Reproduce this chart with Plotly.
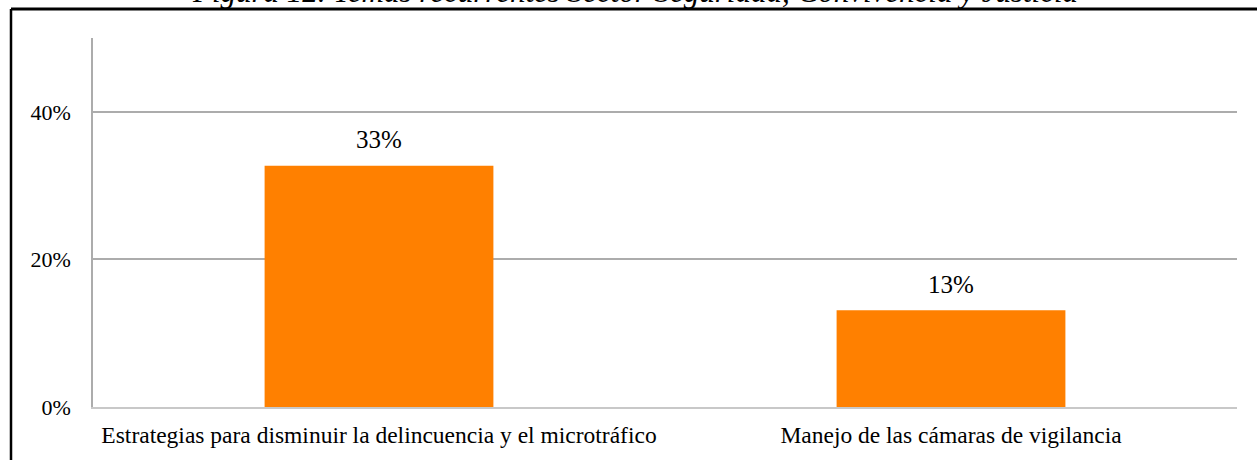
import plotly.graph_objects as go

# datos
temas = ["Estrategias para disminuir la delincuencia y el microtráfico",
         "Manejo de las cámaras de vigilancia"]
porcentajes = [0.327, 0.131]
etiquetas = ["33%", "13%"]
titulo = "Figura 12. Temas recurrentes Sector Seguridad, Convivencia y Justicia"

W, H = 1257, 460
L, R, T, B = 93, 20, 38, 53
pw, ph = W - L - R, H - T - B


def px_x(p):
    return (p - L) / pw


def px_y(p):
    return (H - B - p) / ph


fig = go.Figure()
fig.add_trace(go.Bar(
    x=temas, y=porcentajes, width=0.4,
    marker=dict(color="#ff8000", line=dict(width=0)),
    hoverinfo="skip",
))

annotations = []
for t, v, e in zip(temas, porcentajes, etiquetas):
    annotations.append(dict(x=t, y=v, text=e, showarrow=False, yanchor="middle",
                            yshift=26, font=dict(family="Liberation Serif", size=25, color="#000")))

# titulo cortado en la parte superior (como en la imagen original)
annotations.append(dict(xref="paper", yref="paper", x=px_x(635), y=px_y(-9),
                        text="<i>" + titulo + "</i>", showarrow=False,
                        xanchor="center", yanchor="middle",
                        font=dict(family="Liberation Serif", size=31, color="#000")))

shapes = [
    # marco del grafico
    dict(type="line", xref="paper", yref="paper", x0=px_x(11), x1=px_x(W + 5),
         y0=px_y(9), y1=px_y(9), line=dict(color="#000", width=3)),
    dict(type="line", xref="paper", yref="paper", x0=px_x(11), x1=px_x(11),
         y0=px_y(9), y1=px_y(H + 5), line=dict(color="#000", width=2.5)),
]

fig.update_layout(
    width=W, height=H,
    margin=dict(l=L, r=R, t=T, b=B),
    paper_bgcolor="white", plot_bgcolor="white",
    showlegend=False,
    bargap=0.6,
    font=dict(family="Liberation Serif", color="#000"),
    annotations=annotations,
    shapes=shapes,
    xaxis=dict(showline=True, linecolor="#c8c8c8", linewidth=1.5, showgrid=False,
               ticks="", tickfont=dict(size=23.5), ticklabelstandoff=6, zeroline=False),
    yaxis=dict(range=[0, 0.5], tickvals=[0, 0.2, 0.4], tickformat=".0%",
               showgrid=True, gridcolor="#acacac", gridwidth=1.5,
               showline=True, linecolor="#acacac", linewidth=1.5,
               ticks="", tickfont=dict(size=22), ticklabelstandoff=16, zeroline=False),
)

# quitar el margen del body para que la figura empiece en la esquina
fig.write_html("out.html", config={"displayModeBar": False},
               post_script="document.body.style.margin='0';")
